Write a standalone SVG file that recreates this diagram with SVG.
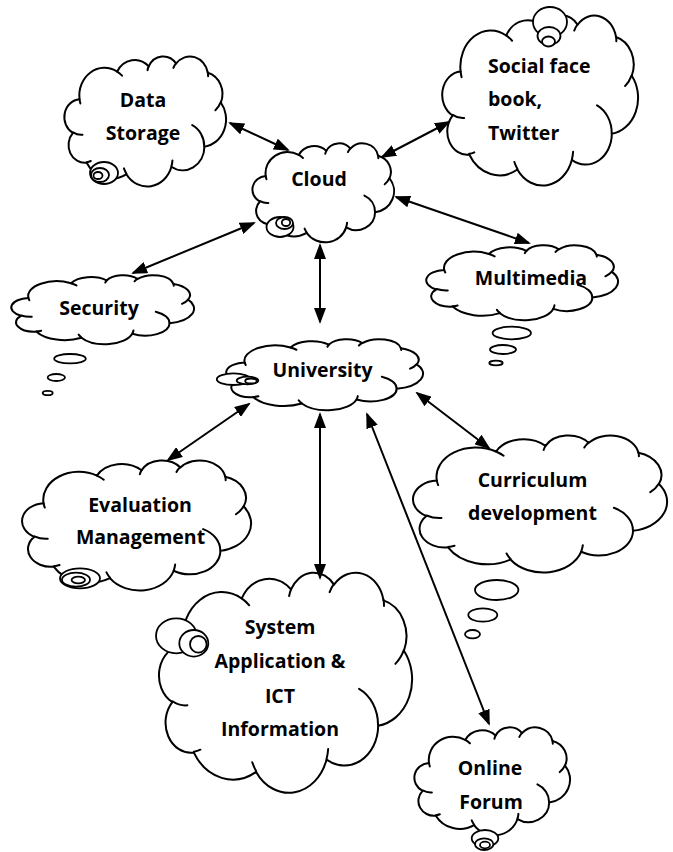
<svg xmlns="http://www.w3.org/2000/svg" width="673" height="852" viewBox="0 0 673 852">
<style>
.cl{fill:#fff;stroke:#000;stroke-width:2;vector-effect:non-scaling-stroke;stroke-linejoin:round}
.cr{fill:none;stroke:#000;stroke-width:2;vector-effect:non-scaling-stroke;stroke-linecap:round}
.bub{fill:#fff;stroke:#000;stroke-width:1.8}
.lbl{font-family:"Open Sans","Liberation Sans",sans-serif;font-weight:700;font-size:19.5px;fill:#000;text-anchor:middle}
.lft{text-anchor:start}
.con{stroke:#000;stroke-width:2;fill:none;marker-start:url(#ah);marker-end:url(#ah)}
</style>
<defs>
<marker id="ah" markerUnits="userSpaceOnUse" markerWidth="16" markerHeight="12" viewBox="0 0 16 12" refX="14" refY="6" orient="auto-start-reverse">
<path d="M0,0 L16,6 L0,12 z" fill="#000"/>
</marker>
<!-- cloud outline in a 100x100 box, scaled per node -->
<g id="cloud">
<path class="cl" d="M9.03 33.26 A15.63 21.27 0 0 1 32.41 12.03 A12.35 16.82 0 0 1 51.98 7.94 A10.10 13.76 0 0 1 69.05 5.74 A11.24 15.27 0 0 1 88.69 12.90 A12.35 16.84 0 0 1 96.80 35.78 A15.68 21.34 0 0 1 86.58 69.90 A13.39 18.21 0 0 1 66.09 85.20 A15.63 21.33 0 0 1 38.14 90.88 A17.87 24.41 0 0 1 13.45 82.09 A10.09 13.70 0 0 1 4.91 59.13 A10.06 13.76 0 0 1 9.03 33.26 Z"/>
<path class="cr" d="M10.86 60.59 A10.06 13.76 0 0 1 5.00 58.75 M16.04 80.78 A10.09 13.70 0 0 1 13.47 81.67 M38.14 90.49 A15.63 21.33 0 0 1 36.60 86.46 M66.73 80.44 A15.63 21.33 0 0 1 66.11 84.86 M79.00 53.13 A13.39 18.21 0 0 1 86.52 69.65 M96.75 35.54 A12.35 16.84 0 0 1 93.40 41.74 M88.71 12.56 A11.24 15.27 0 0 1 88.89 15.49 M67.31 9.15 A11.24 15.27 0 0 1 69.03 5.42 M51.25 10.93 A10.10 13.76 0 0 1 52.08 7.71 M32.41 12.02 A15.63 21.27 0 0 1 35.42 15.14 M9.55 36.55 A15.63 21.27 0 0 1 9.03 33.27"/>
</g>
</defs>
<rect width="673" height="852" fill="#fff"/>

<g id="data-storage">
<use href="#cloud" transform="translate(65,56) scale(1.61,1.30)"/>
<ellipse class="bub" cx="104" cy="173" rx="14" ry="11"/>
<ellipse class="bub" cx="100" cy="175" rx="9" ry="7"/>
<ellipse class="bub" cx="98" cy="175.5" rx="4.5" ry="3.5"/>
<text class="lbl" x="143" y="106.5">Data</text>
<text class="lbl" x="143" y="140">Storage</text>
</g>

<g id="social">
<use href="#cloud" transform="translate(443,15) scale(1.95,1.70)"/>
<ellipse class="bub" cx="550" cy="22" rx="17" ry="15"/>
<ellipse class="bub" cx="549" cy="36" rx="11.5" ry="9"/>
<ellipse class="bub" cx="548.5" cy="41.5" rx="6.5" ry="5"/>
<text class="lbl lft" x="488" y="72.5">Social face</text>
<text class="lbl lft" x="488" y="106">book,</text>
<text class="lbl lft" x="488" y="139.5">Twitter</text>
</g>

<g id="cloud-node">
<use href="#cloud" transform="translate(253,143) scale(1.41,0.99)"/>
<ellipse class="bub" cx="280" cy="227" rx="13.5" ry="10"/>
<ellipse class="bub" cx="284.5" cy="223" rx="8.5" ry="6"/>
<ellipse class="bub" cx="286" cy="222.5" rx="4.2" ry="3.5"/>
<text class="lbl" x="319" y="186">Cloud</text>
</g>

<g id="security">
<use href="#cloud" transform="translate(12,275) scale(1.82,0.69)"/>
<ellipse class="bub" cx="70" cy="358.7" rx="15.8" ry="4.7"/>
<ellipse class="bub" cx="56.3" cy="377.5" rx="8.7" ry="3.5"/>
<ellipse class="bub" cx="47.7" cy="393" rx="5" ry="2.2"/>
<text class="lbl" x="99" y="315">Security</text>
</g>

<g id="multimedia">
<use href="#cloud" transform="translate(427,245) scale(1.91,0.75)"/>
<ellipse class="bub" cx="511.8" cy="333" rx="19.2" ry="6.3"/>
<ellipse class="bub" cx="503" cy="349.5" rx="13" ry="4.5"/>
<ellipse class="bub" cx="496" cy="363" rx="6.7" ry="2.3"/>
<text class="lbl" x="531" y="285">Multimedia</text>
</g>

<g id="university">
<use href="#cloud" transform="translate(227,339) scale(1.96,0.71)"/>
<ellipse class="bub" cx="233.5" cy="379.2" rx="16.7" ry="5.8"/>
<ellipse class="bub" cx="247.5" cy="380.5" rx="10.8" ry="3.8"/>
<ellipse class="bub" cx="251" cy="381" rx="5.8" ry="2.5"/>
<text class="lbl" x="322.5" y="377">University</text>
</g>

<g id="evaluation">
<use href="#cloud" transform="translate(23,460) scale(2.28,1.30)"/>
<ellipse class="bub" cx="80" cy="578.3" rx="20" ry="10"/>
<ellipse class="bub" cx="76" cy="579.7" rx="14" ry="7"/>
<ellipse class="bub" cx="78.3" cy="580" rx="6.7" ry="3.3"/>
<text class="lbl" x="140" y="511.5">Evaluation</text>
<text class="lbl" x="140.5" y="543.5">Management</text>
</g>

<g id="curriculum">
<use href="#cloud" transform="translate(414,435) scale(2.53,1.37)"/>
<ellipse class="bub" cx="496.7" cy="590" rx="21.7" ry="10"/>
<ellipse class="bub" cx="482.8" cy="615" rx="14.5" ry="6.7"/>
<ellipse class="bub" cx="472.5" cy="634.2" rx="7.5" ry="4.2"/>
<text class="lbl" x="532.5" y="486.5">Curriculum</text>
<text class="lbl" x="532.5" y="520">development</text>
</g>

<g id="system">
<use href="#cloud" transform="translate(160,572) scale(2.52,2.20)"/>
<ellipse class="bub" cx="176.3" cy="635.8" rx="20.3" ry="17.5"/>
<ellipse class="bub" cx="193.8" cy="643.3" rx="14.5" ry="13.3"/>
<ellipse class="bub" cx="198.3" cy="644.3" rx="8.3" ry="8.3"/>
<text class="lbl" x="280" y="634">System</text>
<text class="lbl" x="280" y="668">Application &amp;</text>
<text class="lbl" x="280" y="702.5">ICT</text>
<text class="lbl" x="280" y="736">Information</text>
</g>

<g id="online-forum">
<use href="#cloud" transform="translate(415,727) scale(1.55,1.08)"/>
<ellipse class="bub" cx="485" cy="838.3" rx="13.3" ry="8.3"/>
<ellipse class="bub" cx="484.2" cy="844.2" rx="9.2" ry="5.8"/>
<ellipse class="bub" cx="485" cy="845" rx="5" ry="3.3"/>
<text class="lbl" x="490" y="775">Online</text>
<text class="lbl" x="491" y="808.5">Forum</text>
</g>

<g id="connectors">
<line class="con" x1="230" y1="123" x2="288" y2="150"/>
<line class="con" x1="382" y1="157" x2="449" y2="122"/>
<line class="con" x1="396" y1="197" x2="529" y2="243"/>
<line class="con" x1="254" y1="223" x2="133" y2="273"/>
<line class="con" x1="320" y1="245" x2="320" y2="322"/>
<line class="con" x1="249" y1="404" x2="168" y2="460"/>
<line class="con" x1="320" y1="414" x2="320" y2="578"/>
<line class="con" x1="417" y1="393" x2="489" y2="448"/>
<line class="con" x1="367" y1="414" x2="489" y2="724"/>
</g>
</svg>
